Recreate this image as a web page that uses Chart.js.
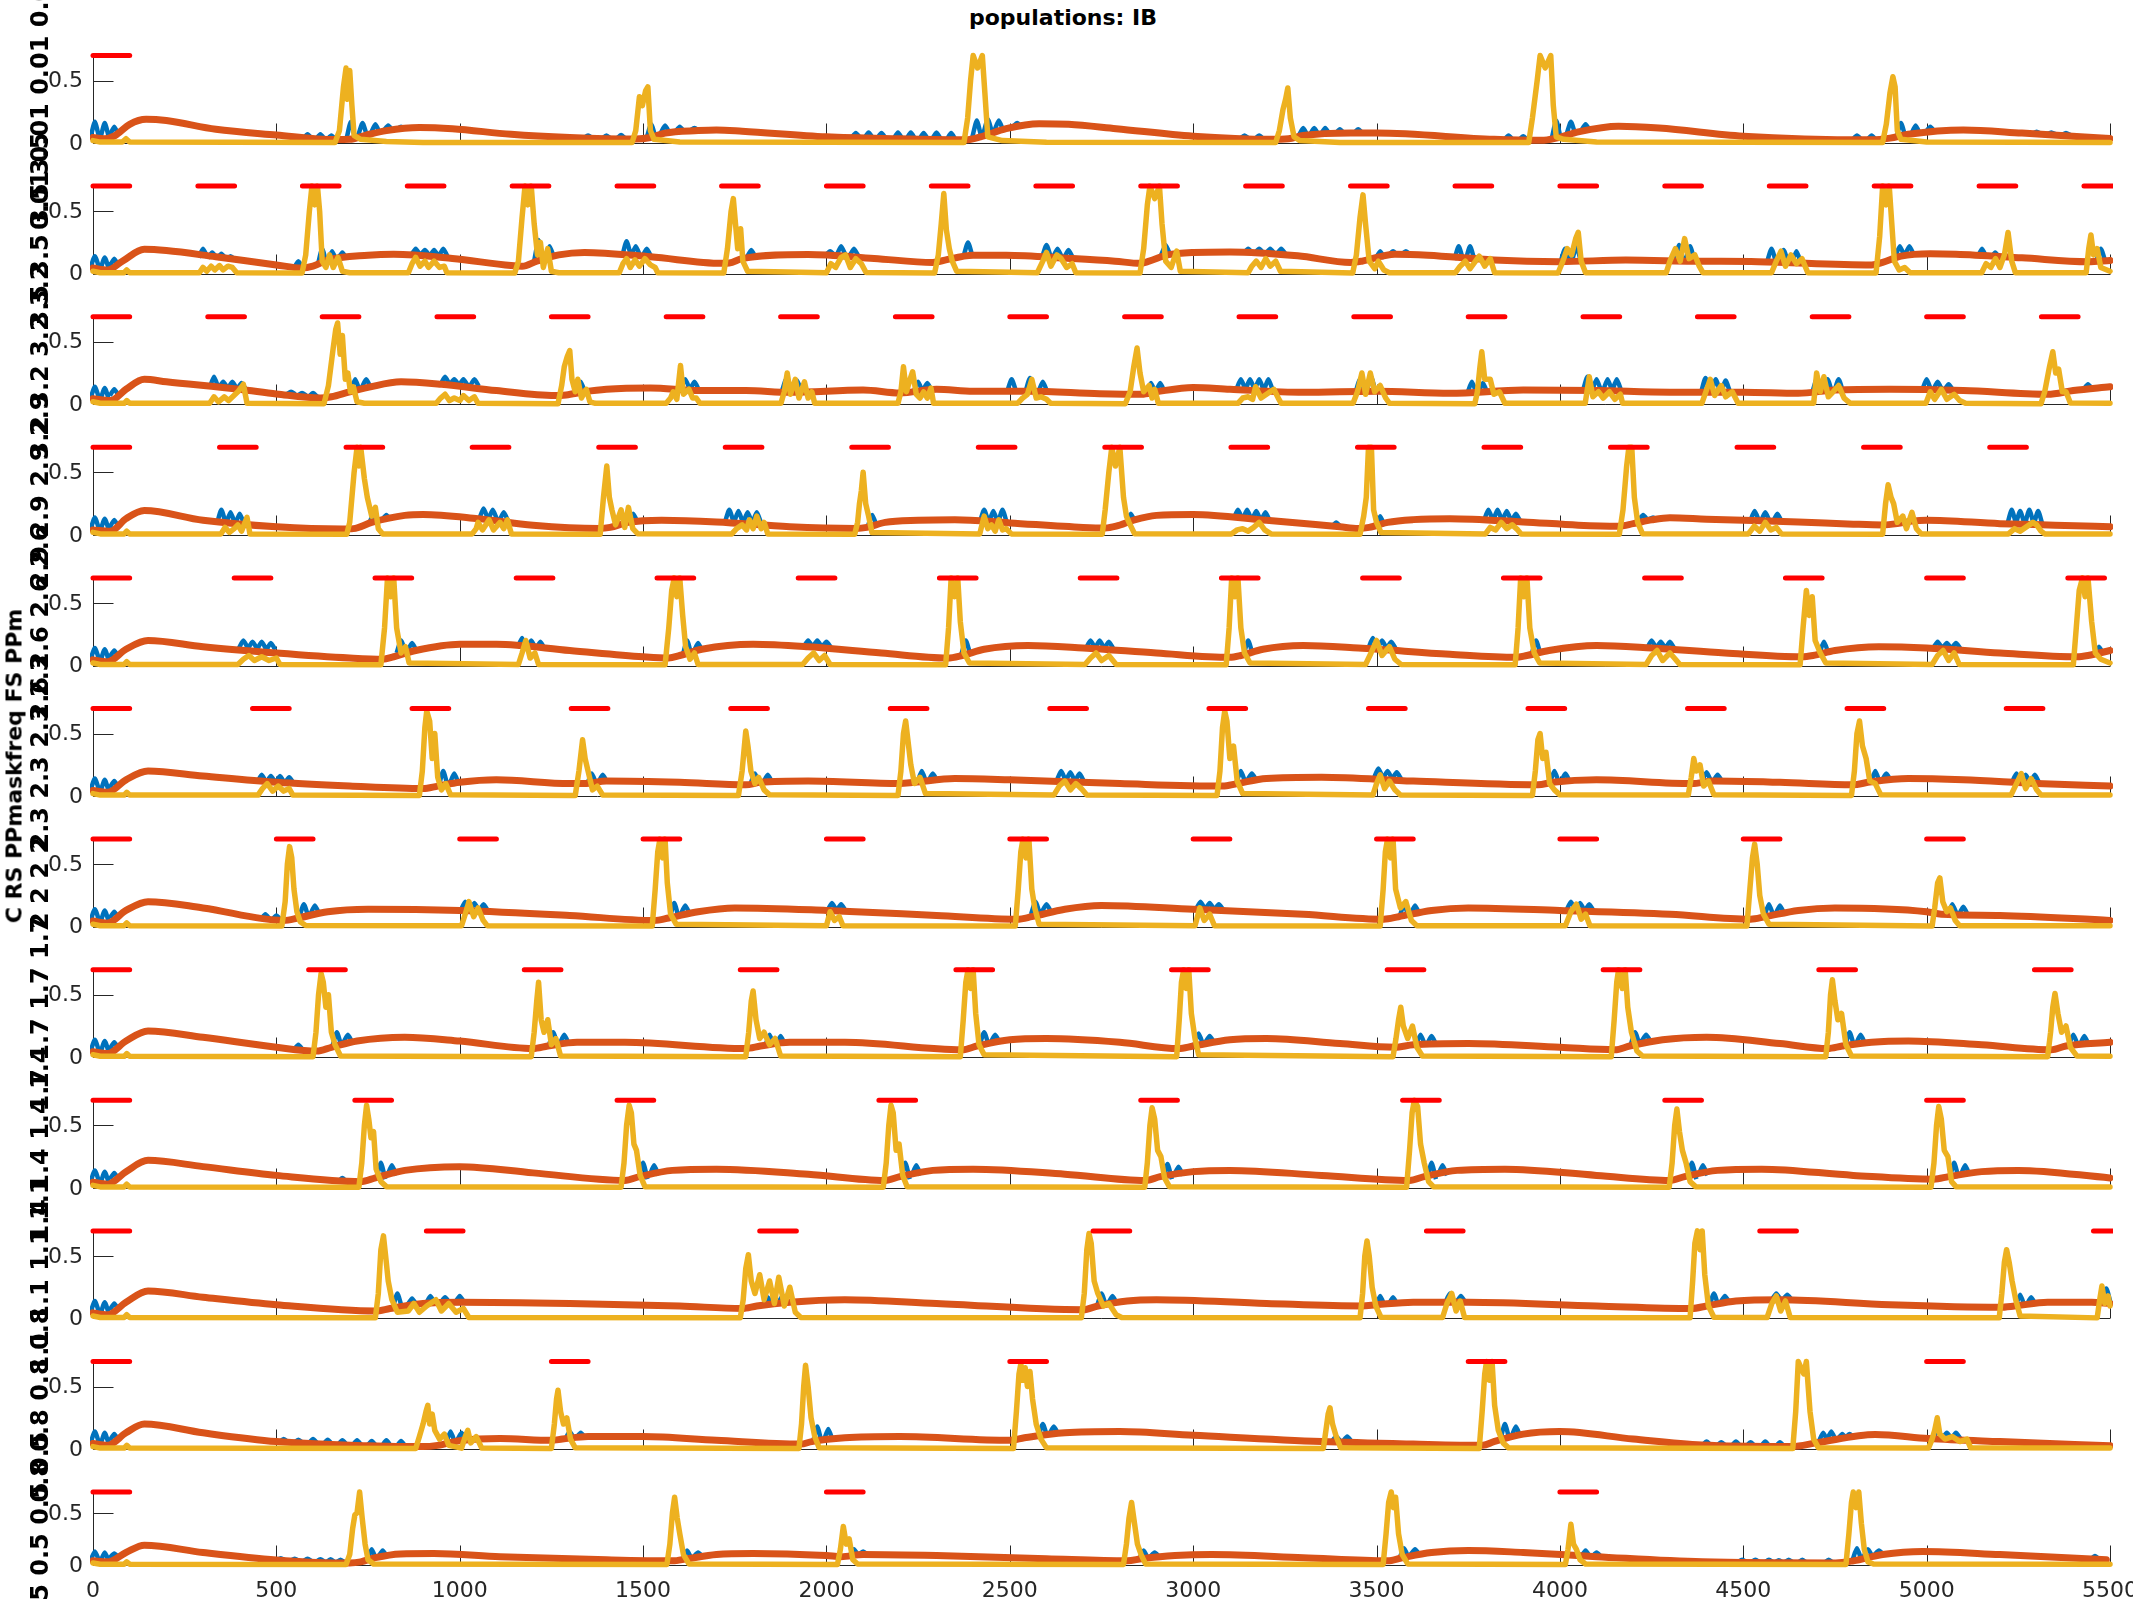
<!DOCTYPE html>
<html>
<head>
<meta charset="utf-8">
<script src="https://cdn.jsdelivr.net/npm/chart.js@4.4.1/dist/chart.umd.min.js"></script>
<style>
  html, body { margin:0; padding:0; background:#fff; }
  body { width:2133px; height:1600px; position:relative; overflow:hidden; font-family:'DejaVu Sans', sans-serif; }
  canvas { position:absolute; left:0; }
  .rot { position:absolute; white-space:nowrap; font-weight:bold; color:#000; transform:translate(-50%,-50%) rotate(-90deg); font-family:'DejaVu Sans', sans-serif; }
  #title { position:absolute; top:5px; left:0; width:2126px; text-align:center; font-weight:bold; font-size:22px; color:#000; }
</style>
</head>
<body>
<div id="title">populations: IB</div>
<script>
// ---------------- DATA ----------------
const xTicks = [0,500,1000,1500,2000,2500,3000,3500,4000,4500,5000,5500];
const yTicks = [0, 0.5];
const yTickLabels = ['0','0.5'];
const maskFreqLabels = ['0.01','3.5','3.2','2.9','2.6','2.3','2','1.7','1.4','1.1','0.8','0.5'];
const sideLabel = 'C RS PPmaskfreq FS PPm';
const maskLevel = 0.7;
const maskDur = 100;

const mask1 = [0];
const mask2 = [0,286,571,857,1143,1429,1714,2000,2286,2571,2857,3143,3429,3714,4000,4286,4571,4857,5143,5429];
const mask3 = [0,313,625,938,1250,1563,1875,2188,2500,2813,3125,3438,3750,4063,4375,4688,5000,5313];
const mask4 = [0,345,690,1034,1379,1724,2069,2414,2759,3103,3448,3793,4138,4483,4828,5172];
const mask5 = [0,385,769,1154,1538,1923,2308,2692,3077,3462,3846,4231,4615,5000,5385];
const mask6 = [0,435,870,1304,1739,2174,2609,3043,3478,3913,4348,4783,5217];
const mask7 = [0,500,1000,1500,2000,2500,3000,3500,4000,4500,5000];
const mask8 = [0,588,1176,1765,2353,2941,3529,4118,4706,5294];
const mask9 = [0,714,1429,2143,2857,3571,4286,5000];
const mask10 = [0,909,1818,2727,3636,4545,5455];
const mask11 = [0,1250,2500,3750,5000];
const mask12 = [0,2000,4000];

// orange: [t, value, t, value, ...]
const orange1 = [0,.045,30,.035,60,.06,100,.15,145,.19,200,.18,335,.11,500,.065,660,.028,700,.03,740,.06,800,.1,890,.125,980,.115,1140,.07,1300,.045,1480,.033,1520,.045,1560,.08,1650,.1,1700,.105,1770,.095,2000,.05,2200,.035,2380,.027,2420,.05,2490,.115,2580,.155,2660,.15,2790,.115,3000,.055,3210,.03,3260,.035,3300,.06,3430,.08,3500,.08,3820,.03,3950,.022,3990,.04,4050,.09,4160,.135,4270,.12,4500,.055,4850,.026,4900,.04,4950,.07,5100,.105,5260,.08,5500,.036];
const orange2 = [0,.045,40,.03,80,.1,140,.195,200,.185,335,.135,500,.07,570,.045,600,.06,640,.11,750,.148,820,.156,980,.122,1140,.065,1170,.06,1210,.1,1270,.15,1340,.17,1520,.135,1715,.083,1735,.085,1770,.12,1950,.153,2130,.122,2290,.09,2310,.1,2400,.148,2490,.148,2665,.122,2787,.1,2855,.083,2880,.1,2930,.15,3000,.17,3100,.174,3285,.143,3430,.09,3460,.1,3550,.156,3640,.148,3820,.109,4000,.096,4180,.109,4360,.1,4540,.096,4850,.07,4880,.09,4930,.14,5010,.16,5080,.156,5260,.127,5440,.096,5500,.105];
const orange3 = [0,.045,48,.03,90,.12,140,.2,200,.18,400,.12,500,.083,620,.05,650,.06,700,.1,750,.135,840,.18,950,.16,1100,.11,1260,.07,1290,.075,1340,.1,1400,.12,1520,.13,1650,.11,1780,.11,1900,.096,2100,.114,2200,.09,2300,.12,2400,.104,2550,.104,2745,.085,2860,.08,2900,.1,3000,.135,3100,.12,3300,.096,3500,.104,3700,.088,3900,.114,4100,.11,4300,.096,4500,.096,4650,.088,4750,.114,4900,.12,5100,.11,5330,.08,5400,.11,5500,.14];
const orange4 = [0,.04,48,.03,90,.13,140,.195,300,.117,500,.065,680,.047,710,.05,760,.1,850,.156,900,.164,1050,.13,1200,.078,1380,.052,1410,.06,1460,.1,1550,.117,1700,.104,1900,.065,2080,.052,2110,.06,2160,.1,2250,.117,2350,.122,2500,.096,2700,.06,2760,.055,2790,.07,2840,.12,2900,.156,3000,.164,3200,.117,3400,.065,3450,.052,3480,.06,3530,.1,3600,.122,3700,.13,3900,.104,4050,.078,4160,.07,4200,.09,4250,.12,4300,.137,4400,.125,4650,.104,4800,.086,4880,.08,4920,.09,4960,.11,5000,.117,5200,.09,5350,.078,5500,.065];
const orange5 = [0,.045,40,.03,90,.13,150,.2,300,.15,500,.1,700,.06,790,.05,820,.07,880,.12,1000,.17,1100,.17,1300,.12,1500,.07,1570,.06,1600,.08,1660,.13,1800,.17,1950,.15,2150,.1,2330,.06,2370,.08,2430,.13,2550,.16,2700,.14,2900,.1,3100,.065,3130,.08,3190,.13,3300,.16,3450,.14,3700,.09,3880,.065,3910,.08,3970,.12,4100,.16,4250,.14,4450,.1,4660,.07,4690,.08,4750,.12,4870,.15,5000,.14,5200,.1,5410,.07,5440,.08,5500,.12];
const orange6 = [0,.045,40,.03,90,.13,150,.2,300,.16,500,.11,700,.08,900,.06,940,.08,1000,.11,1100,.13,1300,.1,1340,.1,1400,.12,1600,.11,1780,.09,1820,.11,1950,.12,2200,.1,2240,.11,2350,.14,2500,.13,2800,.1,3080,.08,3120,.1,3200,.14,3350,.15,3600,.12,3940,.09,3980,.11,4100,.13,4360,.1,4420,.12,4600,.11,4800,.09,4840,.11,4950,.14,5100,.13,5300,.1,5500,.08];
const orange7 = [0,.045,40,.03,90,.13,150,.2,300,.15,520,.05,560,.07,640,.12,750,.14,1000,.13,1300,.09,1530,.05,1570,.07,1650,.12,1750,.15,2000,.13,2300,.09,2520,.06,2560,.08,2650,.14,2750,.17,3000,.14,3300,.1,3520,.06,3560,.08,3650,.13,3750,.15,4000,.13,4300,.1,4520,.06,4560,.08,4650,.13,4750,.15,5000,.12,5040,.1,5200,.09,5500,.05];
const orange8 = [0,.045,40,.03,90,.13,150,.21,300,.16,500,.08,610,.05,650,.08,720,.13,850,.16,1000,.13,1200,.07,1240,.09,1320,.12,1450,.12,1780,.07,1820,.09,1900,.12,2050,.12,2370,.06,2410,.09,2500,.14,2600,.15,2800,.12,2960,.07,3000,.09,3100,.14,3200,.15,3400,.11,3550,.08,3600,.1,3750,.11,4000,.08,4150,.06,4190,.09,4280,.14,4400,.16,4600,.11,4730,.07,4770,.09,4850,.12,4950,.13,5150,.1,5340,.06,5380,.09,5500,.12];
const orange9 = [0,.045,40,.03,90,.13,150,.22,300,.17,500,.1,730,.05,770,.08,850,.14,1000,.17,1200,.12,1450,.06,1490,.09,1580,.14,1700,.15,1950,.11,2160,.06,2200,.09,2290,.14,2400,.15,2650,.11,2870,.06,2910,.09,3000,.13,3100,.14,3350,.1,3590,.06,3630,.09,3720,.14,3850,.15,4100,.1,4300,.06,4340,.09,4430,.14,4550,.15,4800,.1,5020,.07,5060,.09,5150,.13,5250,.14,5500,.08];
const orange10 = [0,.045,40,.03,90,.13,150,.22,300,.17,500,.11,770,.06,810,.08,900,.12,1000,.13,1300,.12,1600,.1,1770,.08,1810,.1,1900,.13,2050,.15,2300,.12,2700,.07,2740,.1,2820,.14,2900,.15,3200,.12,3460,.1,3500,.11,3600,.13,3750,.13,4100,.1,4360,.08,4400,.1,4480,.14,4600,.15,4900,.11,5200,.09,5240,.1,5330,.13,5450,.13,5500,.12];
const orange11 = [0,.045,40,.03,90,.13,140,.2,300,.13,500,.06,750,.027,900,.02,940,.03,1000,.067,1110,.085,1250,.07,1280,.08,1350,.1,1500,.1,1700,.07,1930,.04,1960,.06,2050,.09,2200,.1,2500,.07,2540,.09,2650,.13,2800,.14,3000,.11,3350,.06,3600,.04,3790,.03,3820,.06,3900,.12,4000,.14,4200,.08,4387,.032,4633,.02,4700,.05,4860,.117,5005,.085,5200,.06,5500,.027];
const orange12 = [0,.04,40,.03,90,.12,140,.19,300,.12,500,.048,659,.02,700,.02,730,.03,770,.07,838,.106,929,.11,1110,.08,1400,.05,1580,.04,1620,.06,1700,.1,1800,.11,2000,.09,2040,.08,2100,.1,2300,.09,2600,.06,2820,.04,2860,.06,2950,.09,3050,.1,3300,.07,3530,.04,3570,.07,3650,.12,3750,.14,3900,.12,4100,.08,4388,.03,4752,.02,4800,.04,4880,.1,4989,.13,5200,.1,5490,.05];

// yellow: [t, value, ...]
const yellow1 = [0,.02,20,.008,80,.008,90,.035,100,.008,660,.005,672,.1,683,.45,690,.6,694,.35,700,.58,706,.3,712,.06,730,.03,800,.012,900,.005,1470,.005,1480,.1,1490,.37,1498,.3,1507,.42,1513,.45,1520,.1,1530,.03,1600,.008,2375,.005,2385,.2,2393,.5,2400,.7,2412,.6,2425,.7,2432,.4,2440,.05,2480,.02,2600,.006,3225,.005,3235,.1,3245,.27,3252,.35,3258,.44,3265,.2,3275,.05,3290,.02,3400,.005,3915,.005,3925,.2,3938,.5,3946,.7,3960,.6,3975,.7,3982,.3,3990,.05,4010,.03,4100,.008,4880,.005,4890,.15,4900,.4,4908,.53,4914,.45,4920,.1,4930,.03,5000,.008,5500,.005];
const yellow2 = [0,.02,20,.008,85,.008,92,.03,100,.008,290,.008,300,.05,310,.02,322,.06,332,.03,345,.065,355,.03,368,.06,380,.05,392,.008,570,.005,580,.15,590,.5,597,.7,605,.55,612,.7,618,.5,625,.1,635,.05,645,.15,655,.05,668,.13,680,.02,700,.008,860,.008,870,.08,880,.13,892,.06,905,.1,915,.05,930,.1,945,.05,958,.06,965,.008,1150,.005,1160,.1,1170,.45,1178,.7,1186,.55,1195,.7,1203,.4,1212,.15,1220,.25,1228,.05,1240,.2,1250,.02,1270,.008,1435,.008,1445,.08,1455,.12,1465,.05,1478,.11,1490,.06,1505,.12,1520,.07,1533,.05,1540,.008,1720,.005,1730,.2,1740,.5,1746,.6,1752,.4,1758,.2,1766,.36,1772,.1,1785,.02,2000,.008,2012,.08,2025,.05,2040,.13,2052,.15,2065,.05,2080,.12,2095,.08,2108,.01,2295,.005,2305,.15,2313,.4,2320,.64,2327,.35,2335,.2,2343,.1,2355,.02,2575,.008,2590,.1,2600,.17,2612,.06,2628,.15,2640,.12,2655,.05,2670,.08,2680,.008,2855,.005,2865,.2,2875,.55,2882,.7,2895,.6,2908,.7,2915,.4,2925,.1,2940,.05,2955,.18,2965,.02,3150,.008,3160,.06,3172,.1,3185,.05,3198,.12,3210,.06,3225,.1,3238,.02,3435,.005,3445,.15,3455,.45,3463,.63,3470,.4,3480,.1,3495,.04,3505,.1,3520,.03,3535,.008,3715,.008,3728,.06,3742,.1,3755,.04,3770,.1,3780,.14,3795,.06,3810,.12,3822,.008,3995,.005,4008,.1,4020,.2,4032,.15,4043,.28,4050,.33,4058,.1,4070,.008,4290,.008,4300,.1,4315,.2,4328,.1,4340,.28,4352,.12,4368,.15,4380,.06,4390,.008,4577,.008,4590,.1,4603,.18,4615,.06,4630,.15,4645,.08,4660,.12,4676,.008,4862,.005,4872,.3,4880,.7,4890,.55,4898,.7,4905,.4,4912,.1,4925,.03,4940,.05,4955,.008,5150,.008,5162,.08,5175,.05,5188,.12,5200,.05,5212,.15,5222,.33,5232,.1,5242,.008,5435,.008,5442,.2,5448,.31,5455,.15,5465,.2,5475,.05,5500,.02];
const yellow3 = [0,.02,20,.008,85,.008,92,.03,100,.008,318,.008,330,.06,342,.02,358,.06,370,.03,395,.1,410,.16,420,.008,630,.005,642,.15,655,.45,662,.6,667,.65,674,.4,680,.55,688,.2,695,.25,702,.1,710,.14,720,.02,740,.008,936,.008,948,.05,960,.08,972,.03,985,.05,1000,.03,1010,.07,1025,.03,1040,.06,1050,.008,1268,.005,1278,.15,1285,.3,1293,.38,1300,.43,1306,.2,1315,.1,1322,.2,1332,.05,1345,.12,1355,.02,1370,.008,1563,.008,1575,.05,1582,.1,1592,.04,1602,.31,1610,.08,1625,.12,1635,.05,1645,.05,1655,.008,1876,.008,1885,.1,1893,.25,1902,.08,1915,.2,1925,.05,1940,.18,1950,.05,1960,.1,1968,.008,2195,.008,2203,.1,2210,.3,2218,.1,2228,.2,2235,.26,2245,.08,2255,.05,2265,.1,2275,.05,2285,.13,2292,.008,2521,.008,2535,.05,2548,.08,2560,.2,2572,.05,2585,.06,2600,.04,2611,.008,2815,.005,2828,.1,2838,.3,2847,.45,2855,.25,2865,.1,2880,.15,2888,.05,2895,.12,2905,.008,3122,.008,3135,.05,3150,.06,3162,.04,3170,.14,3185,.05,3200,.08,3220,.12,3232,.05,3240,.008,3436,.008,3448,.1,3460,.25,3470,.08,3483,.25,3495,.1,3510,.15,3525,.05,3535,.008,3768,.005,3775,.1,3782,.3,3787,.42,3795,.2,3810,.2,3820,.08,3835,.1,3850,.008,4069,.008,4080,.22,4090,.06,4105,.1,4118,.05,4135,.1,4150,.04,4165,.08,4171,.008,4387,.008,4398,.1,4410,.2,4422,.07,4440,.15,4452,.06,4470,.1,4486,.008,4692,.008,4700,.25,4710,.1,4720,.22,4732,.06,4745,.1,4760,.15,4775,.05,4792,.008,4998,.008,5010,.1,5022,.04,5040,.12,5055,.04,5075,.08,5090,.03,5106,.008,5312,.005,5322,.1,5335,.3,5344,.42,5352,.25,5360,.28,5370,.1,5380,.1,5392,.01,5500,.008];
const yellow4 = [0,.02,20,.008,85,.008,92,.03,100,.008,349,.008,360,.06,372,.02,385,.05,395,.08,405,.03,420,.14,428,.008,692,.005,700,.1,712,.5,720,.7,725,.55,730,.7,740,.45,748,.3,752,.25,760,.15,770,.22,778,.05,790,.008,1034,.008,1045,.05,1050,.1,1062,.04,1080,.12,1092,.04,1110,.1,1120,.05,1130,.12,1141,.008,1383,.005,1392,.3,1401,.55,1408,.3,1415,.2,1425,.08,1440,.2,1450,.06,1460,.22,1472,.05,1485,.01,1742,.008,1755,.05,1770,.08,1782,.04,1790,.12,1800,.05,1810,.15,1822,.05,1830,.1,1840,.008,2077,.005,2085,.1,2090,.25,2095,.35,2100,.5,2107,.25,2115,.15,2124,.02,2418,.008,2430,.15,2440,.05,2450,.08,2460,.03,2470,.12,2480,.04,2490,.05,2504,.008,2752,.005,2760,.2,2770,.5,2778,.7,2788,.55,2800,.7,2810,.3,2818,.15,2825,.1,2840,.01,3104,.008,3120,.04,3135,.05,3150,.03,3165,.06,3180,.1,3195,.04,3212,.008,3455,.005,3465,.15,3472,.3,3478,.7,3486,.7,3492,.2,3500,.1,3512,.02,3797,.008,3810,.06,3825,.04,3840,.1,3855,.05,3870,.08,3885,.04,3894,.008,4162,.005,4172,.2,4182,.55,4188,.7,4196,.7,4203,.3,4212,.1,4225,.01,4514,.008,4530,.07,4545,.03,4560,.1,4575,.04,4590,.06,4604,.008,4880,.005,4888,.25,4895,.4,4903,.3,4910,.25,4920,.1,4935,.15,4945,.05,4960,.18,4972,.05,4985,.008,5223,.008,5240,.05,5255,.03,5270,.06,5290,.1,5300,.08,5312,.03,5322,.008,5500,.008];
const yellow5 = [0,.02,20,.008,85,.008,92,.03,100,.008,395,.008,410,.05,425,.08,440,.04,460,.07,480,.04,500,.06,510,.008,785,.005,795,.3,803,.7,812,.55,820,.7,828,.3,840,.1,852,.15,862,.02,1160,.008,1170,.1,1180,.2,1192,.06,1205,.1,1215,.008,1560,.005,1570,.3,1578,.6,1585,.7,1592,.55,1600,.7,1608,.4,1616,.15,1628,.05,1640,.1,1650,.008,1935,.008,1950,.06,1965,.1,1980,.04,1995,.08,2010,.008,2325,.005,2333,.3,2340,.7,2350,.55,2358,.7,2365,.35,2375,.1,2390,.02,2705,.008,2720,.06,2735,.1,2750,.04,2770,.08,2790,.008,3090,.005,3098,.3,3105,.7,3114,.55,3122,.7,3130,.3,3140,.1,3155,.02,3470,.008,3485,.1,3500,.2,3515,.08,3535,.15,3550,.05,3567,.008,3878,.005,3886,.3,3893,.7,3902,.55,3910,.7,3918,.3,3930,.1,3945,.02,4235,.008,4250,.08,4265,.12,4280,.04,4300,.1,4315,.05,4327,.008,4655,.005,4663,.3,4672,.6,4680,.4,4688,.55,4696,.2,4710,.1,4725,.02,5015,.008,5030,.08,5045,.12,5060,.04,5075,.1,5089,.008,5400,.005,5408,.3,5416,.6,5425,.7,5432,.55,5440,.7,5450,.35,5460,.1,5475,.05,5500,.02];
const yellow6 = [0,.02,20,.008,85,.008,92,.03,100,.008,450,.008,462,.06,475,.1,490,.04,505,.08,520,.04,535,.06,545,.008,890,.005,898,.2,905,.55,910,.68,918,.6,925,.3,932,.5,940,.15,950,.05,962,.1,975,.01,1315,.005,1325,.2,1335,.45,1342,.3,1350,.2,1362,.05,1375,.08,1390,.008,1760,.005,1770,.2,1780,.52,1786,.4,1794,.2,1805,.1,1815,.15,1830,.05,1845,.01,2195,.005,2203,.2,2210,.5,2216,.6,2222,.45,2230,.25,2240,.1,2255,.15,2270,.02,2620,.008,2635,.08,2650,.12,2665,.05,2680,.1,2695,.06,2710,.008,3065,.005,3073,.2,3080,.55,3086,.68,3092,.6,3100,.3,3110,.4,3120,.12,3135,.02,3490,.008,3500,.1,3510,.17,3522,.06,3535,.12,3550,.05,3565,.008,3925,.005,3933,.2,3940,.45,3946,.5,3953,.3,3962,.35,3972,.1,3985,.05,4000,.01,4350,.008,4358,.15,4365,.3,4372,.2,4382,.25,4392,.08,4405,.12,4420,.01,4795,.005,4803,.2,4810,.5,4817,.6,4825,.4,4835,.3,4845,.12,4860,.1,4875,.01,5230,.008,5245,.1,5258,.18,5270,.06,5285,.14,5300,.05,5312,.008,5500,.008];
const yellow7 = [0,.02,20,.008,85,.008,92,.03,100,.008,515,.005,524,.2,530,.5,536,.64,542,.55,548,.3,556,.12,565,.04,580,.01,1005,.008,1015,.1,1025,.2,1038,.08,1050,.15,1064,.05,1075,.008,1525,.005,1533,.3,1540,.6,1546,.7,1553,.55,1560,.7,1566,.35,1575,.1,1590,.02,2000,.008,2010,.12,2022,.05,2035,.08,2045,.008,2515,.005,2523,.3,2530,.6,2536,.7,2544,.55,2552,.7,2560,.3,2568,.15,2580,.02,3005,.008,3018,.15,3030,.05,3045,.1,3058,.008,3510,.005,3518,.3,3524,.6,3530,.7,3538,.55,3545,.7,3552,.3,3565,.15,3580,.2,3595,.05,3610,.008,4015,.008,4030,.12,4045,.18,4058,.06,4070,.1,4082,.008,4510,.005,4518,.3,4525,.55,4531,.66,4538,.5,4545,.25,4555,.1,4570,.02,5015,.005,5022,.15,5030,.35,5036,.39,5044,.2,5055,.12,5065,.15,5078,.05,5090,.008,5500,.008];
const yellow8 = [0,.02,20,.008,85,.008,92,.03,100,.008,600,.005,608,.2,615,.5,622,.67,628,.6,635,.4,642,.5,650,.2,660,.1,675,.01,1195,.005,1203,.2,1210,.45,1215,.6,1222,.3,1230,.2,1240,.3,1250,.1,1262,.15,1275,.01,1780,.005,1788,.2,1795,.45,1800,.53,1808,.3,1818,.15,1830,.2,1845,.1,1860,.15,1875,.01,2365,.005,2373,.3,2380,.6,2386,.7,2393,.55,2400,.7,2407,.35,2416,.1,2430,.02,2955,.005,2962,.3,2968,.6,2974,.7,2981,.55,2988,.7,2995,.35,3005,.15,3015,.02,3545,.005,3553,.15,3560,.3,3566,.4,3573,.25,3585,.15,3598,.25,3610,.08,3625,.01,4140,.005,4148,.3,4155,.6,4160,.7,4170,.55,4178,.7,4185,.4,4195,.2,4210,.05,4225,.01,4725,.005,4732,.2,4738,.5,4743,.62,4750,.45,4758,.3,4768,.35,4780,.1,4795,.01,5330,.005,5338,.2,5344,.4,5350,.51,5358,.35,5368,.2,5380,.25,5392,.08,5410,.01,5500,.008];
const yellow9 = [0,.02,20,.008,85,.008,92,.03,100,.008,725,.005,733,.2,740,.5,746,.66,752,.55,758,.4,765,.45,772,.15,785,.05,800,.01,1440,.005,1448,.2,1455,.5,1462,.66,1468,.6,1475,.35,1482,.3,1492,.1,1505,.01,2155,.005,2163,.2,2170,.5,2176,.66,2182,.6,2190,.3,2198,.35,2208,.1,2220,.01,2868,.005,2875,.2,2882,.5,2888,.64,2895,.55,2903,.3,2912,.25,2922,.08,2935,.01,3582,.005,3590,.3,3597,.6,3603,.7,3612,.65,3620,.35,3630,.2,3642,.05,3655,.01,4298,.005,4306,.2,4313,.5,4319,.63,4326,.45,4334,.3,4344,.2,4355,.05,4370,.01,5012,.005,5020,.2,5027,.5,5033,.65,5040,.55,5048,.3,5058,.25,5068,.05,5080,.01,5500,.008];
const yellow10 = [0,.02,20,.008,85,.008,92,.03,100,.008,770,.005,778,.2,785,.55,792,.66,798,.5,805,.3,815,.15,830,.05,860,.06,875,.12,890,.05,910,.1,935,.15,950,.06,970,.12,990,.05,1010,.08,1025,.008,1765,.005,1773,.15,1780,.4,1787,.51,1795,.3,1805,.2,1818,.35,1830,.15,1845,.3,1858,.12,1870,.33,1885,.1,1900,.25,1915,.05,1930,.008,2695,.005,2703,.2,2710,.55,2716,.68,2722,.6,2730,.3,2740,.2,2755,.1,2770,.12,2790,.03,2805,.008,3455,.005,3462,.2,3468,.5,3474,.62,3480,.5,3488,.25,3498,.1,3512,.01,3680,.008,3692,.12,3705,.2,3717,.06,3728,.14,3740,.008,4355,.005,4362,.3,4368,.6,4375,.7,4382,.55,4388,.7,4395,.35,4405,.1,4420,.01,4565,.008,4578,.12,4590,.18,4602,.06,4615,.14,4628,.008,5198,.005,5205,.2,5212,.45,5218,.55,5225,.45,5233,.3,5243,.15,5255,.02,5465,.005,5472,.15,5478,.26,5486,.12,5495,.18,5500,.1];
const yellow11 = [0,.02,20,.008,85,.008,92,.03,100,.008,880,.005,890,.1,900,.2,908,.3,913,.35,918,.2,925,.28,932,.15,945,.08,958,.12,970,.03,1005,.008,1015,.1,1022,.15,1030,.05,1045,.1,1060,.008,1250,.005,1258,.2,1264,.4,1268,.47,1275,.3,1283,.2,1292,.25,1302,.08,1315,.01,1925,.005,1932,.2,1938,.5,1943,.67,1950,.5,1958,.25,1968,.1,1980,.01,2510,.005,2518,.3,2525,.6,2530,.68,2536,.55,2542,.65,2548,.5,2555,.62,2562,.4,2572,.2,2585,.08,2600,.01,3355,.005,3362,.15,3368,.28,3373,.33,3380,.2,3390,.1,3402,.01,3780,.005,3788,.3,3795,.6,3800,.7,3808,.55,3815,.7,3822,.35,3832,.15,3845,.05,3860,.01,4635,.005,4643,.3,4650,.7,4665,.6,4672,.7,4682,.3,4692,.08,4705,.01,5005,.008,5015,.08,5022,.15,5029,.25,5036,.12,5050,.08,5070,.1,5090,.06,5110,.08,5120,.01,5500,.008];
const yellow12 = [0,.02,20,.008,85,.008,92,.03,100,.008,690,.005,700,.1,708,.35,714,.48,720,.5,727,.7,734,.45,742,.2,750,.05,765,.01,1565,.005,1573,.2,1580,.5,1586,.65,1593,.45,1600,.3,1610,.1,1625,.01,2030,.005,2038,.15,2046,.37,2054,.2,2062,.25,2072,.05,2085,.01,2810,.005,2818,.2,2825,.45,2832,.6,2840,.4,2848,.2,2858,.1,2870,.01,3518,.005,3526,.3,3533,.6,3540,.7,3546,.55,3552,.65,3560,.3,3570,.1,3585,.01,4015,.005,4022,.15,4030,.39,4037,.2,4045,.15,4055,.05,4070,.01,4780,.005,4788,.3,4795,.6,4800,.7,4808,.55,4815,.7,4822,.4,4830,.15,4840,.03,4855,.01,5500,.008];

// blue bumps: [t, base value, peak value, ...]
const blue1 = [5,.04,.17,32,.035,.16,58,.06,.13,585,.035,.07,620,.03,.07,650,.028,.06,703,.03,.17,735,.06,.16,770,.08,.15,805,.1,.14,840,.11,.13,1350,.04,.06,1400,.037,.06,1440,.035,.065,1522,.045,.15,1560,.08,.14,1600,.09,.13,1640,.1,.12,2080,.04,.08,2115,.038,.085,2150,.036,.08,2195,.034,.085,2230,.032,.085,2265,.03,.08,2300,.03,.085,2340,.028,.08,2410,.05,.18,2440,.08,.19,2470,.1,.18,2520,.13,.16,3140,.035,.06,3180,.032,.06,3300,.06,.12,3330,.065,.12,3360,.07,.12,3400,.075,.11,3450,.08,.11,3860,.025,.06,3900,.024,.055,3990,.04,.18,4030,.07,.17,4070,.1,.15,4810,.028,.06,4850,.026,.06,4930,.05,.16,4970,.07,.14,5010,.09,.13,5300,.075,.09,5340,.07,.085,5380,.065,.08];
const blue2 = [5,.045,.14,32,.03,.13,58,.06,.12,300,.13,.2,325,.125,.17,350,.12,.16,375,.115,.14,560,.045,.1,625,.07,.2,652,.1,.18,680,.12,.17,880,.15,.2,905,.145,.19,930,.14,.19,955,.135,.2,1215,.1,.27,1245,.13,.22,1455,.14,.26,1480,.14,.22,1510,.135,.2,1795,.13,.19,2010,.15,.18,2040,.148,.22,2075,.14,.2,2386,.14,.25,2600,.13,.23,2630,.13,.2,2660,.125,.19,2925,.15,.23,3150,.165,.2,3180,.163,.2,3210,.16,.2,3240,.158,.2,3510,.12,.18,3545,.15,.18,3580,.155,.18,3724,.11,.22,3755,.108,.22,4014,.096,.2,4045,.1,.22,4325,.1,.23,4355,.1,.22,4577,.095,.2,4610,.09,.19,4645,.088,.18,4927,.14,.22,4953,.15,.22,5151,.13,.2,5187,.128,.17,5475,.1,.2];
const blue3 = [5,.045,.14,32,.03,.13,58,.07,.12,330,.13,.22,355,.128,.18,380,.125,.18,405,.12,.17,540,.08,.1,570,.07,.09,600,.06,.09,715,.11,.2,745,.135,.2,960,.16,.22,985,.155,.2,1010,.15,.2,1040,.145,.2,1330,.09,.18,1615,.12,.2,1640,.115,.18,1890,.098,.2,1920,.1,.19,2250,.1,.18,2275,.11,.17,2505,.104,.2,2555,.104,.21,2590,.1,.18,2885,.09,.17,2910,.1,.17,3130,.12,.2,3155,.118,.2,3180,.115,.2,3205,.112,.2,3455,.1,.2,3485,.102,.22,3760,.09,.18,3790,.092,.17,4075,.11,.22,4100,.11,.2,4130,.11,.2,4155,.108,.2,4397,.096,.21,4425,.096,.2,4452,.096,.19,4700,.09,.2,4730,.095,.2,4760,.1,.2,5000,.115,.2,5030,.114,.18,5060,.113,.16,5440,.12,.16];
const blue4 = [5,.04,.14,32,.03,.13,58,.06,.12,350,.09,.2,375,.088,.18,400,.085,.17,765,.09,.17,800,.12,.16,1065,.125,.21,1090,.12,.2,1120,.11,.18,1473,.1,.17,1735,.1,.2,1760,.098,.19,1785,.096,.18,1810,.094,.18,2125,.07,.16,2430,.1,.2,2455,.098,.19,2480,.096,.2,2830,.1,.17,3122,.125,.2,3147,.12,.2,3172,.115,.19,3197,.11,.18,3390,.065,.1,3510,.07,.15,3805,.115,.2,3830,.112,.2,3855,.11,.19,3880,.107,.17,4227,.12,.16,4254,.125,.14,4531,.11,.19,4560,.108,.18,4593,.106,.17,5232,.085,.2,5255,.084,.19,5280,.082,.2,5304,.08,.19];
const blue5 = [5,.045,.14,32,.03,.13,58,.07,.12,410,.14,.2,435,.135,.19,460,.13,.19,485,.125,.18,840,.1,.2,870,.12,.18,1170,.14,.22,1195,.135,.2,1220,.13,.19,1620,.08,.2,1650,.11,.18,1950,.15,.2,1975,.148,.2,2000,.145,.19,2380,.09,.2,2720,.14,.2,2745,.138,.2,2770,.135,.19,3150,.09,.2,3490,.14,.22,3515,.138,.2,3540,.135,.19,3935,.09,.2,4250,.14,.2,4275,.138,.19,4300,.135,.19,4720,.1,.19,5030,.14,.19,5055,.138,.18,5080,.135,.18,5470,.09,.15];
const blue6 = [5,.045,.14,32,.03,.13,58,.07,.12,460,.11,.17,485,.108,.16,510,.106,.16,535,.104,.15,955,.08,.2,985,.1,.18,1360,.1,.18,1390,.11,.17,1805,.1,.18,1840,.11,.17,2260,.11,.2,2290,.12,.18,2640,.125,.2,2665,.12,.19,2690,.118,.18,3130,.11,.2,3160,.13,.18,3505,.145,.22,3530,.14,.2,3555,.138,.19,3985,.11,.2,4015,.115,.18,4400,.12,.19,4430,.12,.17,4860,.11,.2,4890,.125,.18,5245,.11,.18,5270,.108,.17,5295,.106,.17];
const blue7 = [5,.045,.14,32,.03,.13,58,.07,.12,470,.06,.1,500,.055,.09,575,.08,.18,605,.1,.17,1015,.13,.2,1040,.128,.19,1065,.125,.18,1585,.07,.19,1615,.1,.17,2015,.13,.19,2040,.128,.18,2570,.1,.2,2600,.12,.18,3020,.14,.2,3045,.138,.19,3070,.135,.18,3575,.08,.18,3605,.1,.17,4030,.13,.2,4055,.128,.19,4080,.125,.18,4570,.09,.18,4600,.1,.17,5070,.1,.18,5100,.095,.16];
const blue8 = [5,.045,.14,32,.03,.13,58,.07,.12,560,.06,.1,665,.09,.2,695,.12,.18,1255,.09,.2,1285,.11,.18,1845,.09,.18,1875,.1,.17,2430,.1,.2,2460,.12,.18,3015,.1,.19,3045,.12,.17,3620,.1,.18,3650,.105,.17,4205,.1,.2,4235,.13,.18,4790,.09,.2,4820,.11,.18,5400,.1,.18,5430,.1,.17];
const blue9 = [5,.045,.14,32,.03,.13,58,.07,.12,680,.05,.08,785,.07,.2,815,.1,.18,1500,.07,.2,1530,.1,.18,2215,.07,.2,2245,.1,.18,2930,.07,.19,2960,.1,.17,3650,.07,.2,3680,.1,.18,4360,.07,.2,4390,.1,.18,5075,.08,.2,5105,.1,.18];
const blue10 = [5,.045,.14,32,.03,.13,58,.07,.12,830,.09,.2,870,.11,.16,920,.12,.18,960,.125,.17,1000,.13,.18,1840,.11,.17,1880,.12,.18,2750,.1,.2,2780,.12,.18,3510,.1,.18,3545,.11,.17,3700,.13,.2,3730,.13,.18,4420,.1,.2,4450,.13,.18,4590,.15,.2,4620,.15,.19,5255,.1,.19,5285,.11,.17,5490,.12,.24];
const blue11 = [5,.045,.14,32,.03,.13,58,.07,.12,520,.055,.08,560,.05,.075,600,.045,.08,640,.04,.075,680,.035,.07,720,.03,.07,760,.027,.065,800,.025,.07,840,.023,.065,975,.05,.14,1005,.07,.13,1300,.08,.14,1330,.09,.13,1975,.05,.18,2005,.07,.16,2590,.1,.2,2620,.12,.18,3390,.06,.1,3420,.06,.1,3850,.08,.2,3880,.1,.18,4400,.03,.06,4440,.028,.055,4480,.026,.06,4520,.024,.055,4560,.022,.06,4600,.02,.055,4718,.06,.13,4740,.07,.14,4770,.08,.12,4790,.09,.12,5030,.085,.15,5055,.085,.13,5080,.084,.13];
const blue12 = [5,.04,.13,32,.03,.12,58,.07,.11,512,.045,.065,550,.04,.06,585,.035,.06,620,.03,.055,648,.025,.055,675,.022,.05,760,.05,.15,790,.08,.14,1620,.06,.14,1650,.08,.12,2075,.09,.15,2100,.1,.13,2865,.06,.14,2895,.08,.12,3575,.07,.16,3605,.1,.15,4070,.08,.14,4100,.08,.12,4497,.028,.05,4533,.026,.05,4570,.024,.05,4597,.022,.045,4624,.022,.05,4661,.021,.05,4733,.02,.05,4810,.05,.16,4840,.08,.15,4870,.1,.14,5459,.055,.087];

const masks = [mask1,mask2,mask3,mask4,mask5,mask6,mask7,mask8,mask9,mask10,mask11,mask12];
const oranges = [orange1,orange2,orange3,orange4,orange5,orange6,orange7,orange8,orange9,orange10,orange11,orange12];
const yellows = [yellow1,yellow2,yellow3,yellow4,yellow5,yellow6,yellow7,yellow8,yellow9,yellow10,yellow11,yellow12];
const blues = [blue1,blue2,blue3,blue4,blue5,blue6,blue7,blue8,blue9,blue10,blue11,blue12];

// ---------------- LAYOUT / STYLE ----------------
const COL = { blue:'#0072BD', orange:'#D95319', yellow:'#EDB120', red:'#FF0000', axis:'#262626' };
const PLOT_LEFT = 93, PLOT_RIGHT = 2110, W = 2133;
const BUMP_HALF = 12;
const TICK_LEN = 20;
const LINE_CLIP = { left: 3, right: 3, top: 6, bottom: 6 };

function panelBox(i) {
  if (i < 11) { const top = 55.5 + i * 130.6; return { top, bottom: top + 87.6 }; }
  return { top: 1492, bottom: 1565 };
}
function toPts(a) { const o = []; for (let k = 0; k < a.length; k += 2) o.push({ x: a[k], y: a[k + 1] }); return o; }
function bumpPts(a) {
  const o = [];
  for (let k = 0; k < a.length; k += 3) {
    o.push({ x: a[k] - BUMP_HALF, y: a[k + 1] }, { x: a[k], y: a[k + 2] }, { x: a[k] + BUMP_HALF, y: a[k + 1] }, { x: a[k] + BUMP_HALF, y: null });
  }
  return o;
}
function maskPts(a) {
  const o = [];
  for (const s of a) o.push({ x: s, y: maskLevel }, { x: s + maskDur, y: maskLevel }, { x: s + maskDur, y: null });
  return o;
}

const axesPlugin = {
  id: 'matlabAxes',
  beforeDatasetsDraw(chart) {
    const { ctx, scales: { x, y } } = chart;
    const y0 = Math.round(y.getPixelForValue(0)) + 0.5;
    const yT = y.getPixelForValue(0.7);
    const x0 = Math.round(x.getPixelForValue(0)) + 0.5;
    const x1 = x.getPixelForValue(5500);
    ctx.save();
    ctx.strokeStyle = COL.axis; ctx.lineWidth = 1;
    ctx.beginPath();
    ctx.moveTo(x0, y0); ctx.lineTo(x1, y0);
    ctx.moveTo(x0, y0); ctx.lineTo(x0, yT);
    for (const t of xTicks) { const px = Math.round(x.getPixelForValue(t)) + 0.5; ctx.moveTo(px, y0); ctx.lineTo(px, y0 - TICK_LEN); }
    for (const t of yTicks) { const py = Math.round(y.getPixelForValue(t)) + 0.5; ctx.moveTo(x0, py); ctx.lineTo(x0 + TICK_LEN, py); }
    ctx.stroke();
    ctx.restore();
  },
  afterDraw(chart, args, opts) {
    const { ctx, scales: { x, y } } = chart;
    ctx.save();
    ctx.fillStyle = COL.axis;
    ctx.font = '22px "DejaVu Sans"';
    ctx.textAlign = 'right'; ctx.textBaseline = 'middle';
    yTicks.forEach((t, k) => ctx.fillText(yTickLabels[k], x.getPixelForValue(0) - 10, y.getPixelForValue(t) + 1));
    if (opts.showX) {
      ctx.textAlign = 'center'; ctx.textBaseline = 'top';
      for (const t of xTicks) ctx.fillText(String(t), x.getPixelForValue(t), y.getPixelForValue(0) + 15);
    }
    ctx.restore();
  }
};

for (let i = 0; i < 12; i++) {
  const box = panelBox(i);
  const cTop = Math.floor(box.top) - 30;
  const cBottom = (i === 11) ? 1600 : Math.ceil(box.bottom) + 12;
  const H = cBottom - cTop;
  const cv = document.createElement('canvas');
  cv.width = W; cv.height = H;
  cv.style.top = cTop + 'px';
  cv.style.width = W + 'px'; cv.style.height = H + 'px';
  document.body.appendChild(cv);

  new Chart(cv, {
    type: 'line',
    data: {
      datasets: [
        { data: maskPts(masks[i]), borderColor: COL.red, borderWidth: 5, borderCapStyle: 'round', order: 0, clip: LINE_CLIP },
        { data: toPts(yellows[i]), borderColor: COL.yellow, borderWidth: 5.5, borderJoinStyle: 'round', borderCapStyle: 'round', order: 1, clip: LINE_CLIP },
        { data: toPts(oranges[i]), borderColor: COL.orange, borderWidth: 7, cubicInterpolationMode: 'monotone', borderCapStyle: 'round', order: 2, clip: LINE_CLIP },
        { data: bumpPts(blues[i]), borderColor: COL.blue, borderWidth: 4.5, tension: 0.2, borderJoinStyle: 'round', order: 3, clip: LINE_CLIP }
      ]
    },
    options: {
      responsive: false, animation: false, events: [],
      parsing: false, normalized: true, spanGaps: false,
      layout: { padding: { left: PLOT_LEFT, right: W - PLOT_RIGHT, top: box.top - cTop, bottom: cBottom - box.bottom } },
      elements: { point: { radius: 0 }, line: { tension: 0, fill: false } },
      scales: {
        x: { type: 'linear', min: 0, max: 5500, display: false },
        y: { type: 'linear', min: 0, max: 0.7, display: false }
      },
      plugins: { legend: { display: false }, tooltip: { enabled: false }, matlabAxes: { showX: i === 11 } }
    },
    plugins: [axesPlugin]
  });
}

// rotated y labels (real text)
function addRot(text, cx, cy, size) {
  const d = document.createElement('div');
  d.className = 'rot'; d.textContent = text;
  d.style.left = cx + 'px'; d.style.top = cy + 'px'; d.style.fontSize = size + 'px';
  document.body.appendChild(d);
}
for (let i = 0; i < 12; i++) {
  const b = panelBox(i);
  const f = maskFreqLabels[i];
  addRot([f, f, f, f].join(' '), 40, (b.top + b.bottom) / 2, 24);
}
addRot(sideLabel, 14, 766, 22);
</script>
</body>
</html>
